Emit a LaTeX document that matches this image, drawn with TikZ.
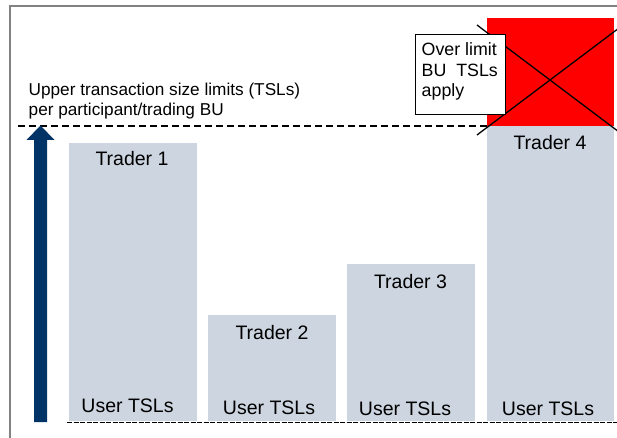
\documentclass[tikz,border=0pt]{standalone}
\usepackage{fontspec}
\setmainfont{Liberation Sans}
\definecolor{barfill}{RGB}{205,213,224}
\definecolor{arrowblue}{RGB}{0,51,102}
\definecolor{baseline}{RGB}{160,180,210}
\definecolor{framegray}{RGB}{130,130,130}
\tikzset{
  bar/.style={fill=barfill, draw=none},
  barlabel/.style={font=\fontsize{19.5}{22}\selectfont, inner sep=0pt, anchor=base},
  frameline/.style={draw=framegray, line width=1.3pt},
}
\begin{document}
\begin{tikzpicture}[x=1pt,y=-1pt]
\useasboundingbox (0,0) rectangle (617,438);
\clip (0,0) rectangle (617,438);
\fill[white] (0,0) rectangle (617,438);
% frame
\draw[frameline] (10,440) -- (10,6) -- (620,6);
% bars
\path[bar] (68.5,143) rectangle (197,421) coordinate (b1);
\path[bar] (208,315) rectangle (336,421) coordinate (b2);
\path[bar] (347,264) rectangle (474.5,421) coordinate (b3);
\path[bar] (486.5,126) rectangle (613.5,421) coordinate (b4);
\fill[red] (486.5,18) rectangle (613.5,126);
% baseline dashed
\coordinate (bl0) at (67,422.5);
\coordinate (bl1) at (617,422.5);
\draw[baseline, line width=1.2pt, dash pattern=on 5pt off 1.5pt] (bl0) -- (bl1);
% labels
\node[barlabel] (t1) at (132,166) {Trader 1};
\node[barlabel] (t2) at (272,339) {Trader 2};
\node[barlabel] (t3) at (410.5,288) {Trader 3};
\node[barlabel] (t4) at (550,150) {Trader 4};
\node[barlabel] (u1) at (127.5,412) {User TSLs};
\node[barlabel] (u2) at (269,414) {User TSLs};
\node[barlabel] (u3) at (405,415) {User TSLs};
\node[barlabel] (u4) at (548,415) {User TSLs};
% dashed limit line
\coordinate (d0) at (18,126);
\coordinate (d1) at (487,126);
\draw[black, line width=1.6pt, dash pattern=on 7pt off 4pt] (d0) -- (d1);
% arrow
\fill[arrowblue] (34,422) -- (34,140) -- (26.5,140) -- (40.5,125.5) -- (54.5,140) -- (47,140) -- (47,422) -- cycle;
% upper text
\node[font=\fontsize{17.2}{20}\selectfont, align=left, anchor=base west, inner sep=0pt] (ut) at (28.5,115.5) {Upper transaction size limits (TSLs)\\per participant/trading BU};
% cross
\coordinate (c1) at (477,25);
\coordinate (c2) at (623,135);
\coordinate (c3) at (477,135);
\coordinate (c4) at (623,25);
\draw[black, line width=1.3pt] (c1) -- (c2);
\draw[black, line width=1.3pt] (c3) -- (c4);
% over limit box
\node[draw=black, fill=white, line width=0.8pt, minimum width=90pt, minimum height=80pt, anchor=north west, inner sep=0pt] (ob) at (414.5,34.5) {};
\node[font=\fontsize{17.8}{20.5}\selectfont, align=left, anchor=base west, inner sep=0pt] (ot) at (421.5,97) {Over limit\\BU\ \ TSLs\\apply};
\end{tikzpicture}
\end{document}
